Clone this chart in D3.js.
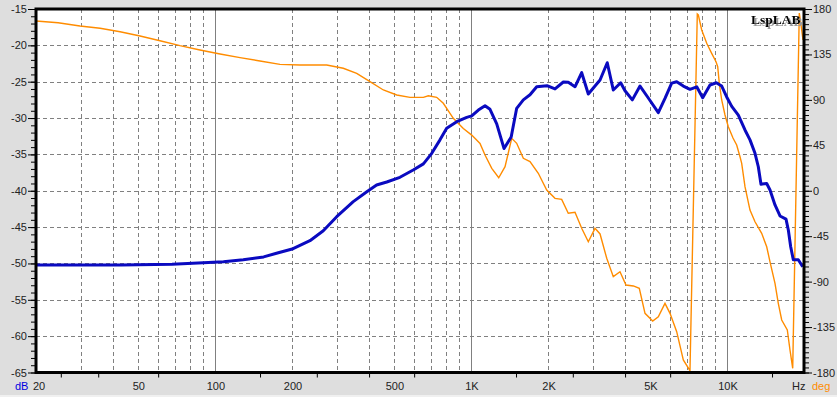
<!DOCTYPE html>
<html><head><meta charset="utf-8">
<script src="https://cdn.jsdelivr.net/npm/d3@7"></script>
<style>
html,body{margin:0;padding:0;background:#dedede;}
svg{display:block;}
text{font-family:"Liberation Sans",Arial,sans-serif;font-size:11px;fill:#222;}
</style></head>
<body>
<svg id="chart" width="837" height="397"></svg>
<script>
// ---- data ----
const magFreq = [20,43,68,90,108,129,155,174,202,235,265,299,347,392,428,469,528,595,652,703,757,804,880,963,1007,1069,1135,1187,1261,1347,1436,1509,1602,1701,1807,1982,2130,2296,2400,2550,2708,2874,3194,3408,3598,3846,3998,4270,4576,4930,5394,5728,6084,6364,6754,7172,7620,8042,8588,9088,9540,9978,10440,11078,11762,12304,12872,13260,13584,14300,14732,15408,16120,17012,17370,17744,18166,19000,19766];
const magDb = [-50.2,-50.2,-50.1,-49.9,-49.76,-49.5,-49.1,-48.6,-47.97,-46.87,-45.5,-43.57,-41.5,-40.13,-39.2,-38.8,-38.15,-37.15,-36.3,-34.85,-33.0,-31.4,-30.5,-29.9,-29.7,-28.9,-28.3,-28.8,-30.8,-34.2,-32.6,-28.66,-27.5,-26.8,-25.7,-25.55,-26.0,-25.04,-25.08,-25.7,-23.76,-26.7,-24.77,-22.39,-26.14,-25.14,-26.24,-27.5,-25.6,-27.24,-29.26,-27.3,-25.2,-25.0,-25.6,-26.05,-25.7,-27.2,-25.45,-25.14,-25.6,-27.1,-28.4,-29.6,-31.64,-33.0,-34.85,-36.7,-39.1,-39.0,-39.9,-41.96,-43.47,-43.9,-45.4,-47.7,-49.5,-49.5,-50.45];
const phaseFreq = [20,24.4,29.7,35.6,42.6,51,61,73,87.4,104.7,125.3,150,179.5,214.9,273.2,317.2,357.9,403.4,454.9,513,578.2,651.7,681.6,734.8,779.9,853.4,933.8,1007,1085,1135,1206,1284,1359,1443,1509,1602,1701,1833,1977,2130,2262,2400,2550,2708,2874,3053,3194,3392,3598,3822,4034,4310,4546,4786,5129,5394,5728,5993,6364,6754,7172,7660,7730,7970,8337,8718,9064,9203,9336,9540,9827,10124,10560,10916,11247,11419,11762,12304,12872,13668,14300,14732,15408,15872,16366,17212,17632,18070,19170,19470,19822];
const phaseDeg = [168.1,166.4,163.2,160.9,157.5,153.3,148.6,143.7,139.4,135.4,131.8,128.5,125.2,124.5,124.5,121.3,116.3,108.0,99.8,94.8,92.5,92.5,94.1,92.5,86.6,71.7,61.7,55.1,46.9,35.4,22.2,12.9,23.8,51.9,47.0,32.1,28.8,17.3,0.7,-7.5,-8.5,-22.3,-21.3,-37.2,-50.5,-37.2,-42.8,-66.9,-85.1,-80.2,-93.4,-94.3,-96.6,-121.4,-129.0,-124.8,-111.5,-121.4,-139.6,-167.6,-178.2,175.0,174.1,159.2,146.0,136.1,127.8,122.8,106.4,89.9,75.0,63.4,52.2,45.3,33.7,27.2,4.0,-19.1,-30.7,-42.2,-55.5,-70.4,-91.7,-111.5,-128.0,-137.9,-157.7,-175.9,176.0,164.2,149.3];
const xLabelValues = [20,50,100,200,500,1000,2000,5000,10000];
const xLabelTexts = ["20","50","100","200","500","1K","2K","5K","10K"];
const xGridDashed = [30,40,50,60,70,80,90,200,300,400,500,600,700,800,900,2000,3000,4000,5000,6000,7000,8000,9000];
const xGridSolid = [100,1000,10000];
const xMinorTicks = [25,35,60,150,250,400,600,1500,2500,4000,6000,15000];
const dbMajor = [-15,-20,-25,-30,-35,-40,-45,-50,-55,-60,-65];
const dbGrid = [-20,-25,-30,-35,-40,-45,-50,-55,-60];
const degMajor = [180,135,90,45,0,-45,-90,-135,-180];

// ---- layout ----
const L=36, R=804, T=9, B=372.5;
const svg = d3.select("#chart");
const defs = svg.append("defs");
const f = defs.append("filter").attr("id","shadow").attr("x","-10%").attr("y","-20%").attr("width","130%").attr("height","160%");
f.append("feDropShadow").attr("dx",2).attr("dy",2).attr("stdDeviation",0).attr("flood-color","#999").attr("flood-opacity",1);

svg.append("rect").attr("x",0).attr("y",395).attr("width",837).attr("height",2).attr("fill","#f0f0f0");
const x = d3.scaleLog().domain([20,20000]).range([L,R]);
const y = d3.scaleLinear().domain([-65,-15]).range([B,T]);
const yp = d3.scaleLinear().domain([-180,180]).range([B,T]);

svg.append("rect").attr("x",L).attr("y",T).attr("width",R-L).attr("height",B-T).attr("fill","#fff");

const grid = svg.append("g");
grid.selectAll(".hg").data(dbGrid).join("line")
  .attr("x1",L).attr("x2",R).attr("y1",d=>Math.round(y(d))+0.5).attr("y2",d=>Math.round(y(d))+0.5)
  .attr("stroke","#808080").attr("stroke-dasharray","4,3");
grid.selectAll(".vg").data(xGridDashed).join("line")
  .attr("y1",T).attr("y2",B).attr("x1",d=>Math.round(x(d))+0.5).attr("x2",d=>Math.round(x(d))+0.5)
  .attr("stroke","#808080").attr("stroke-dasharray","4,3");
grid.selectAll(".vs").data(xGridSolid).join("line")
  .attr("y1",T).attr("y2",B).attr("x1",d=>Math.round(x(d))+0.5).attr("x2",d=>Math.round(x(d))+0.5)
  .attr("stroke","#808080");

svg.append("clipPath").attr("id","clip").append("rect").attr("x",L).attr("y",T).attr("width",R-L).attr("height",B-T);
const plot = svg.append("g").attr("clip-path","url(#clip)");

const phaseLine = d3.line().x((d,i)=>x(phaseFreq[i])).y(d=>yp(d));
plot.append("path").attr("d",phaseLine(phaseDeg)).attr("fill","none").attr("stroke","#ff8c00").attr("stroke-width",1.4);
const magLine = d3.line().x((d,i)=>x(magFreq[i])).y(d=>y(d));
plot.append("path").attr("d",magLine(magDb)).attr("fill","none").attr("stroke","#0a0ac0").attr("stroke-width",3).attr("stroke-linejoin","round");

// frame
svg.append("rect").attr("x",L).attr("y",T).attr("width",R-L).attr("height",B-T).attr("fill","none").attr("stroke","#000").attr("stroke-width",3);

// left axis
const leftMinor = d3.axisLeft(y).tickValues(d3.range(-65,-14,1)).tickSize(4).tickFormat("");
const gl = svg.append("g").attr("transform",`translate(${L-1},0)`).call(leftMinor);
const leftMajor = d3.axisLeft(y).tickValues(dbMajor).tickSize(7).tickPadding(1).tickFormat(d=>String(d));
const gl2 = svg.append("g").attr("transform",`translate(${L-1},0)`).call(leftMajor);
[gl,gl2].forEach(g=>{g.select(".domain").remove();g.selectAll("line").attr("stroke","#000");g.selectAll("text").attr("fill","#222").style("font-size","11px").attr("font-family","Liberation Sans, Arial, sans-serif");});

// right axis
const rightMinor = d3.axisRight(yp).tickValues(d3.range(-180,181,5)).tickSize(4).tickFormat("");
const gr = svg.append("g").attr("transform",`translate(${R+1},0)`).call(rightMinor);
const rightMajor = d3.axisRight(yp).tickValues(degMajor).tickSize(7).tickPadding(1).tickFormat(d=>String(d));
const gr2 = svg.append("g").attr("transform",`translate(${R+1},0)`).call(rightMajor);
[gr,gr2].forEach(g=>{g.select(".domain").remove();g.selectAll("line").attr("stroke","#000");g.selectAll("text").attr("fill","#222").style("font-size","11px").attr("font-family","Liberation Sans, Arial, sans-serif");});

// bottom axis
const bt = svg.append("g").attr("transform",`translate(0,${B+1})`).call(d3.axisBottom(x).tickValues(xMinorTicks).tickSize(4).tickFormat(""));
bt.select(".domain").remove(); bt.selectAll("line").attr("stroke","#000");
svg.selectAll(".xl").data(xLabelValues).join("text")
  .attr("x",(d,i)=>x(d)+(i===0?3:1)).attr("y",390).attr("text-anchor","middle").text((d,i)=>xLabelTexts[i]);
svg.append("text").attr("x",792).attr("y",390).text("Hz");
svg.append("text").attr("x",812).attr("y",390).style("fill","#ff8c00").text("deg");
svg.append("text").attr("x",15).attr("y",390).style("fill","#0000e0").text("dB");

// logo (single text with drop shadow)
svg.append("text").attr("x",751).attr("y",24).attr("filter","url(#shadow)")
  .style("font-family","Liberation Serif, Times New Roman, serif").style("font-weight","bold").style("font-size","13.5px").style("fill","#000").text("LspLAB");
</script>
</body></html>
